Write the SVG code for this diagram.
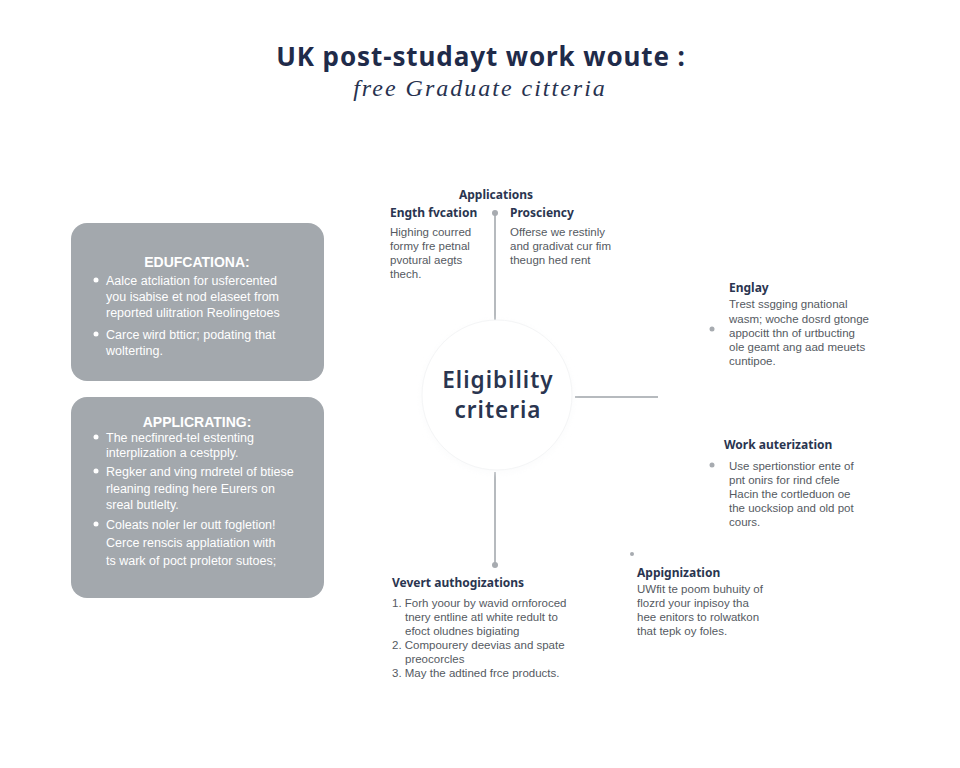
<svg xmlns="http://www.w3.org/2000/svg" width="960" height="768" viewBox="0 0 960 768">
<style>
.title{font-family:"Noto Sans","Liberation Sans",sans-serif;font-weight:bold;fill:#1f2b4a}
.sub{font-family:"Liberation Serif",serif;font-style:italic;fill:#27324f}
.boxh{font-family:"Liberation Sans",sans-serif;font-weight:bold;font-size:14px;fill:#ffffff}
.boxt{font-family:"Liberation Sans",sans-serif;font-size:12.5px;fill:#ffffff}
.h{font-family:"Noto Sans","Liberation Sans",sans-serif;font-weight:bold;font-size:12px;fill:#2a3550}
.t{font-family:"Liberation Sans",sans-serif;font-size:11.5px;fill:#555a62}
.c{font-family:"Noto Sans","Liberation Sans",sans-serif;font-weight:600;font-size:22.5px;fill:#2a3550}
.ln{stroke:#9ea3a8;stroke-width:1.5;fill:none}
.dot{fill:#a7abb0}
.box{fill:#a3a8ad}
</style>
<defs>
<filter id="sh" x="-20%" y="-20%" width="140%" height="140%">
<feGaussianBlur stdDeviation="3"/>
</filter>
</defs>
<rect width="960" height="768" fill="#ffffff"/>
<g id="title">
<text class="title" x="481" y="66" font-size="26" text-anchor="middle" letter-spacing="0.9">UK post-studayt work woute :</text>
<text class="sub" x="480" y="96" font-size="24" text-anchor="middle" letter-spacing="2">free Graduate citteria</text>
</g>
<g id="connectors">
<line class="ln" x1="495" y1="213" x2="495" y2="320"/>
<line class="ln" x1="575" y1="397" x2="658" y2="397"/>
<line class="ln" x1="495" y1="472" x2="495" y2="565"/>
<circle class="dot" cx="495" cy="213" r="3"/>
<circle class="dot" cx="495" cy="565" r="3"/>
<circle class="dot" cx="712" cy="329" r="2.5"/>
<circle class="dot" cx="712" cy="465" r="2.5"/>
<circle class="dot" cx="632" cy="554" r="2"/>
</g>
<g id="center">
<circle cx="497" cy="397" r="76" fill="#f7f8f9" filter="url(#sh)" opacity="0.5"/>
<circle cx="497" cy="395" r="75" fill="#ffffff" stroke="#f4f5f6" stroke-width="1"/>
<text class="c" x="498" y="388" text-anchor="middle" letter-spacing="1">Eligibility</text>
<text class="c" x="498" y="418" text-anchor="middle" letter-spacing="1">criteria</text>
</g>
<g id="educational">
<rect class="box" x="71" y="223" width="253" height="158" rx="16"/>
<text class="boxh" x="197" y="267" text-anchor="middle">EDUFCATIONA:</text>
<circle cx="96" cy="280" r="2.5" fill="#fff"/>
<text class="boxt" x="106" y="285">Aalce atcliation for usfercented</text>
<text class="boxt" x="106" y="301">you isabise et nod elaseet from</text>
<text class="boxt" x="106" y="317">reported ulitration Reolingetoes</text>
<circle cx="96" cy="334" r="2.5" fill="#fff"/>
<text class="boxt" x="106" y="339">Carce wird btticr; podating that</text>
<text class="boxt" x="106" y="355">wolterting.</text>
</g>
<g id="applicrating">
<rect class="box" x="71" y="397" width="253" height="201" rx="16"/>
<text class="boxh" x="197" y="427" text-anchor="middle">APPLICRATING:</text>
<circle cx="96" cy="437" r="2.5" fill="#fff"/>
<text class="boxt" x="106" y="442">The necfinred-tel estenting</text>
<text class="boxt" x="106" y="457">interplization a cestpply.</text>
<circle cx="96" cy="471" r="2.5" fill="#fff"/>
<text class="boxt" x="106" y="476">Regker and ving rndretel of btiese</text>
<text class="boxt" x="106" y="493">rleaning reding here Eurers on</text>
<text class="boxt" x="106" y="509">sreal butlelty.</text>
<circle cx="96" cy="524" r="2.5" fill="#fff"/>
<text class="boxt" x="106" y="529">Coleats noler ler outt fogletion!</text>
<text class="boxt" x="106" y="547">Cerce renscis applatiation with</text>
<text class="boxt" x="106" y="565">ts wark of poct proletor sutoes;</text>
</g>
<g id="applications">
<text class="h" x="496" y="199" text-anchor="middle" font-size="13">Applications</text>
<text class="h" x="390" y="217">Ength fvcation</text>
<text class="h" x="510" y="217">Prosciency</text>
<text class="t" x="390" y="236">Highing courred</text>
<text class="t" x="390" y="250">formy fre petnal</text>
<text class="t" x="390" y="264">pvotural aegts</text>
<text class="t" x="390" y="278">thech.</text>
<text class="t" x="510" y="236">Offerse we restinly</text>
<text class="t" x="510" y="250">and gradivat cur fim</text>
<text class="t" x="510" y="264">theugn hed rent</text>
</g>
<g id="englay">
<text class="h" x="729" y="292">Englay</text>
<text class="t" x="729" y="308">Trest ssgging gnational</text>
<text class="t" x="729" y="323">wasm; woche dosrd gtonge</text>
<text class="t" x="729" y="337">appocitt thn of urtbucting</text>
<text class="t" x="729" y="351">ole geamt ang aad meuets</text>
<text class="t" x="729" y="365">cuntipoe.</text>
</g>
<g id="work-auterization">
<text class="h" x="724" y="449">Work auterization</text>
<text class="t" x="729" y="470">Use spertionstior ente of</text>
<text class="t" x="729" y="484">pnt onirs for rind cfele</text>
<text class="t" x="729" y="498">Hacin the cortleduon oe</text>
<text class="t" x="729" y="512">the uocksiop and old pot</text>
<text class="t" x="729" y="526">cours.</text>
</g>
<g id="vevert">
<text class="h" x="392" y="587" font-size="12.5">Vevert authogizations</text>
<text class="t" x="392" y="607">1. Forh yoour by wavid ornforoced</text>
<text class="t" x="405" y="621">tnery entline atl white redult to</text>
<text class="t" x="405" y="635">efoct oludnes bigiating</text>
<text class="t" x="392" y="649">2. Compourery deevias and spate</text>
<text class="t" x="405" y="663">preocorcles</text>
<text class="t" x="392" y="677">3. May the adtined frce products.</text>
</g>
<g id="appignization">
<text class="h" x="637" y="577">Appignization</text>
<text class="t" x="637" y="593">UWfit te poom buhuity of</text>
<text class="t" x="637" y="607">flozrd your inpisoy tha</text>
<text class="t" x="637" y="621">hee enitors to rolwatkon</text>
<text class="t" x="637" y="635">that tepk oy foles.</text>
</g>
</svg>
